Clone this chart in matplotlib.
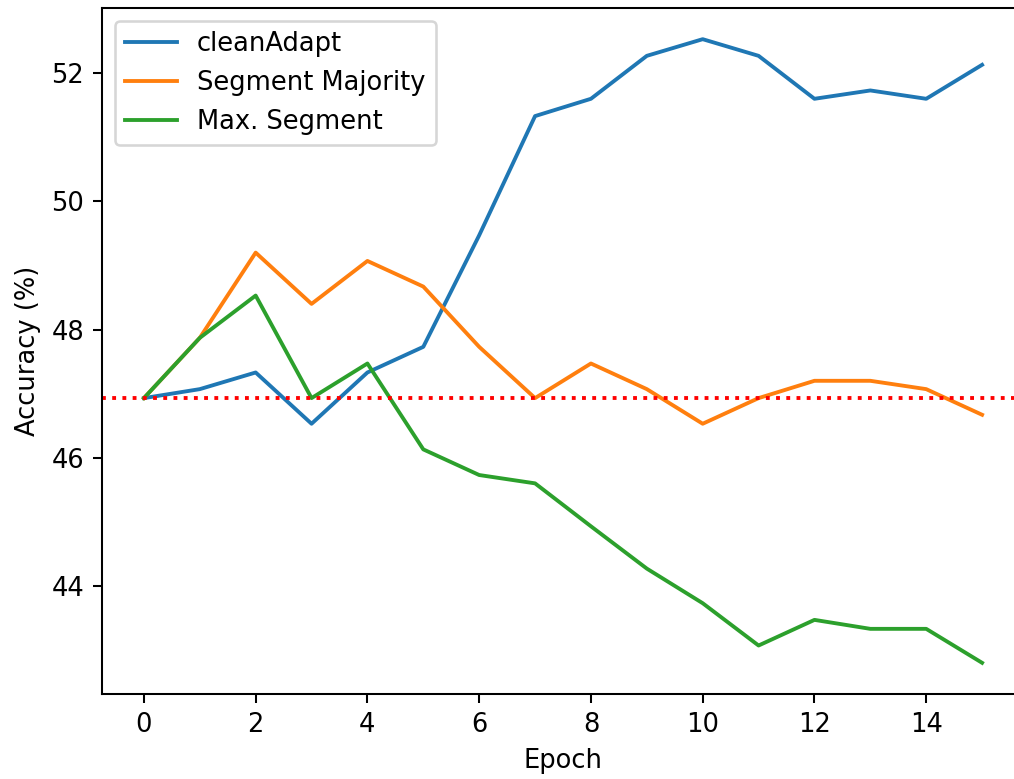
import numpy as np
import matplotlib
matplotlib.use("Agg")
import matplotlib.pyplot as plt

epochs = np.arange(16)
clean_adapt = [46.93, 47.07, 47.33, 46.53, 47.33, 47.73, 49.47, 51.33,
               51.6, 52.27, 52.53, 52.27, 51.6, 51.73, 51.6, 52.13]
segment_majority = [46.93, 47.87, 49.2, 48.4, 49.07, 48.67, 47.73, 46.93,
                    47.47, 47.07, 46.53, 46.93, 47.2, 47.2, 47.07, 46.67]
max_segment = [46.93, 47.87, 48.53, 46.93, 47.47, 46.13, 45.73, 45.6,
               44.93, 44.27, 43.73, 43.07, 43.47, 43.33, 43.33, 42.8]
baseline = 46.93

dpi = 185
fig = plt.figure(figsize=(1014 / dpi, 779 / dpi), dpi=dpi)
# axes run a little past the right edge of the figure
ax = fig.add_axes([102 / 1014, 85 / 779, 922 / 1014, 686 / 779])

ax.plot(epochs, clean_adapt, label="cleanAdapt")
ax.plot(epochs, segment_majority, label="Segment Majority")
ax.plot(epochs, max_segment, label="Max. Segment")
ax.axhline(baseline, color="red", linestyle=":")

ax.set_xlabel("Epoch")
ax.set_ylabel("Accuracy (%)")
ax.legend(loc="upper left")

fig.savefig("out.png", dpi=dpi)
